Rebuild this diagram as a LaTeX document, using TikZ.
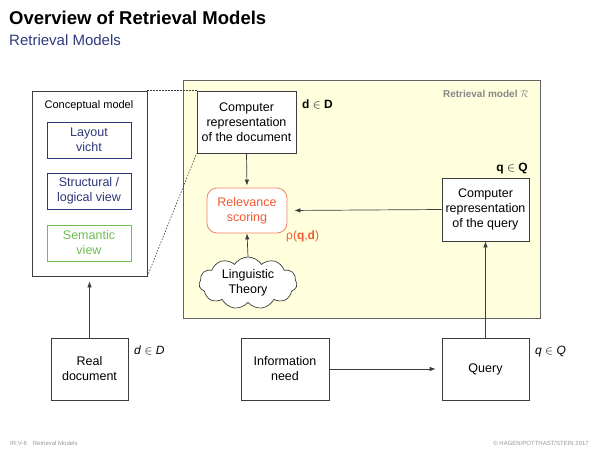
\documentclass[tikz,border=0pt]{standalone}
\usepackage{fontspec}
\setmainfont{Liberation Sans}
\usetikzlibrary{shapes.symbols,arrows.meta}
\definecolor{subblue}{RGB}{46,58,128}
\definecolor{boxblue}{RGB}{45,55,120}
\definecolor{semgreen}{RGB}{110,190,80}
\definecolor{relred}{RGB}{240,90,50}
\definecolor{relborder}{RGB}{245,130,100}
\definecolor{yel}{RGB}{255,255,222}
\definecolor{linegray}{RGB}{60,60,60}
\definecolor{footgray}{RGB}{150,150,150}
\tikzset{
  plainbox/.style={draw=linegray, line width=0.7pt, fill=white, align=center, inner sep=1pt,
    font=\fontsize{12.5}{15}\selectfont},
  viewbox/.style={draw=boxblue, line width=0.8pt, text=boxblue, align=center, inner sep=1pt,
    minimum width=84pt, minimum height=36pt, font=\fontsize{12.5}{15}\selectfont},
  conn/.style={draw=linegray, line width=0.7pt, -{Latex[length=6pt,width=4.5pt]}},
  dotline/.style={draw=linegray, line width=0.6pt, dash pattern=on 1.5pt off 1.5pt},
  lbl/.style={inner sep=0pt, font=\fontsize{12}{14}\selectfont}
}
\begin{document}
\begin{tikzpicture}[x=1pt,y=-1pt]
\useasboundingbox (0,0) rectangle (600,450);
% title
\node[anchor=base west, inner sep=0pt, font=\fontsize{18.5}{20}\selectfont\bfseries] (title) at (9,24) {Overview of Retrieval Models};
\node[anchor=base west, inner sep=0pt, text=subblue, font=\fontsize{15}{17}\selectfont] (subtitle) at (9,45) {Retrieval Models};
% yellow retrieval model area
\node[draw=linegray!80, line width=0.7pt, fill=yel, minimum width=357pt, minimum height=238pt, inner sep=0pt] (rm) at (361.5,199) {};
\node[anchor=base east, inner sep=0pt, text=footgray!90!black, font=\fontsize{10}{12}\selectfont\bfseries] (rmlabel) at (529,97) {Retrieval model $\mathcal{R}$};
% conceptual model
\node[plainbox, minimum width=115pt, minimum height=185pt] (concept) at (89.5,183.5) {};
\node[anchor=base, inner sep=0pt, font=\fontsize{11}{13}\selectfont] (concepttxt) at (89,108) {Conceptual model};
\node[viewbox] (layout) at (89,140) {Layout\\vicht};
\node[viewbox] (struct) at (89,191) {Structural /\\logical view};
\node[viewbox, draw=semgreen, text=semgreen, line width=0.9pt] (sem) at (89,243) {Semantic\\view};
% computer representations
\node[plainbox, minimum width=99pt, minimum height=62pt] (docrep) at (246.5,122) {Computer\\representation\\of the document};
\node[plainbox, minimum width=87pt, minimum height=63pt] (qrep) at (485.5,209.5) {Computer\\representation\\of the query};
\node[draw=relborder, line width=0.8pt, fill=white, rounded corners=10pt, text=relred, align=center,
  minimum width=80pt, minimum height=45pt, inner sep=1pt, font=\fontsize{12.5}{15}\selectfont] (relev) at (247,210.5) {Relevance\\scoring};
\node[cloud, cloud puffs=11, cloud puff arc=115, aspect=2, draw=linegray, line width=0.7pt, fill=white,
  align=center, inner sep=0pt, minimum width=98pt, minimum height=52pt, font=\fontsize{12.5}{15}\selectfont] (cloud) at (248,283) {Linguistic\\Theory};
\node[lbl, anchor=base west] (dD) at (302,108) {\textbf{d} $\in$ \textbf{D}};
\node[lbl, anchor=base east] (qQ) at (528,171) {\textbf{q} $\in$ \textbf{Q}};
\node[lbl, anchor=base west, text=relred] (rho) at (286,239) {ρ(\textbf{q},\textbf{d})};
% bottom row
\node[plainbox, minimum width=77pt, minimum height=62pt] (realdoc) at (89.5,369) {Real\\document};
\node[plainbox, minimum width=88pt, minimum height=62pt] (info) at (285,369) {Information\\need};
\node[plainbox, minimum width=87pt, minimum height=62pt] (query) at (485.5,369) {Query};
\node[lbl, anchor=base west] (dDit) at (134,354) {\textit{d} $\in$ \textit{D}};
\node[lbl, anchor=base west] (qQit) at (535,354) {\textit{q} $\in$ \textit{Q}};
% connectors
\draw[conn, shorten >=5pt] (realdoc.north) -- (concept.south -| realdoc.north);
\draw[conn, shorten >=2pt] (docrep.south) -- (relev.north);
\draw[conn] (cloud.north) -- (relev.south);
\draw[conn, shorten >=7pt] (qrep.west) -- (relev.east);
\draw[conn, shorten >=6pt] (info.east) -- (query.west);
\draw[conn] (query.north) -- (qrep.south);
\draw[dotline] (concept.north east) -- (docrep.north west);
\draw[dotline] (concept.south east) -- (docrep.south west);
% footer
\node[anchor=base west, inner sep=0pt, text=footgray, font=\fontsize{6}{7}\selectfont] (footl) at (10,445) {IR:V-6\hspace{6pt}Retrieval Models};
\node[anchor=base east, inner sep=0pt, text=footgray, font=\fontsize{6}{7}\selectfont] (footr) at (589,445) {© HAGEN/POTTHAST/STEIN 2017};
\end{tikzpicture}
\end{document}
